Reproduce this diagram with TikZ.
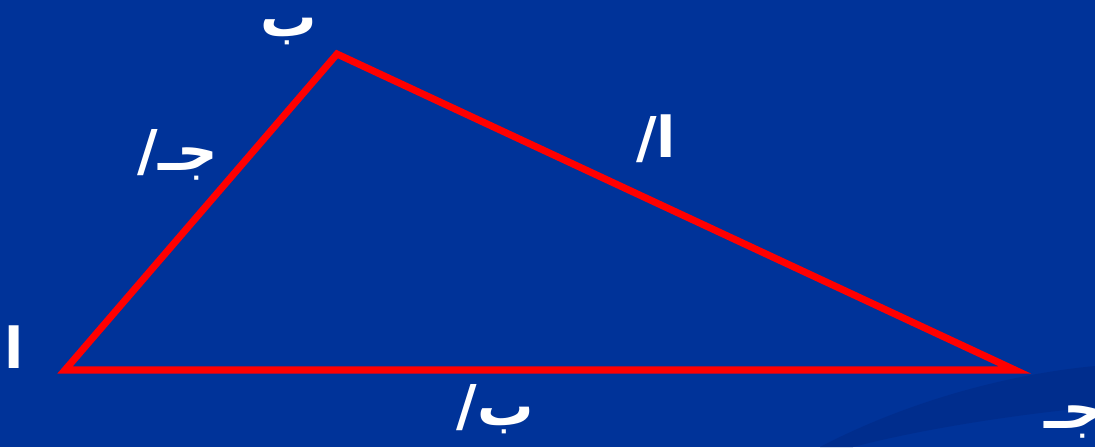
\documentclass[tikz,border=0pt]{standalone}
\usepackage{fontspec}
\newfontfamily\arabicfont[Script=Arabic]{DejaVu Sans}
\TeXXeTstate=1
\usetikzlibrary{positioning}
\definecolor{slidebg}{RGB}{0,51,153}
\definecolor{slideband}{RGB}{0,45,141}

\begin{document}
\begin{tikzpicture}[
  x=0.025cm, y=-0.025cm,
  side/.style={draw=red, line width=5pt, line join=miter},
  lbl/.style={text=white, inner sep=0pt, anchor=base,
              font=\arabicfont\bfseries\fontsize{40}{40}\selectfont},
]
% slide background
\fill[slidebg] (0,0) rectangle (1095,447);
\useasboundingbox (0,0) rectangle (1095,447);
\fill[slideband] (820,447) .. controls (900,405) and (1000,375) .. (1095,366)
  -- (1095,407) .. controls (1000,416) and (910,432) .. (853,447) -- cycle;

% vertices
\coordinate (A) at (65,370);
\coordinate (B) at (337,54);
\coordinate (C) at (1015,370);

\draw[side] (A) -- (B) -- (C) -- cycle;

% vertex names
\node[lbl] (nA) at (14,368) {\beginR ا\endR};
\node[lbl] (nB) at (289,36) {\beginR ب\endR};
\node[lbl, anchor=base west] (nC) at (1044,428) {\beginR جـ\endR};

% side names
\node[lbl] (sc) at (178,170) {\beginR جـ/\endR};
\node[lbl] (sa) at (656,157) {\beginR ا/\endR};
\node[lbl] (sb) at (495,425) {\beginR ب/\endR};
\end{tikzpicture}
\end{document}
